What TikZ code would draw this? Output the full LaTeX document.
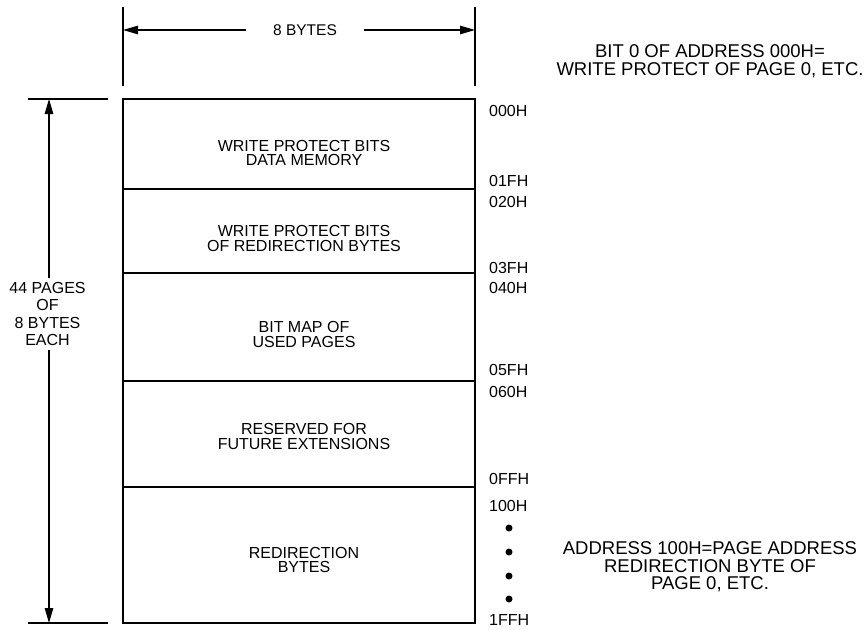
\documentclass[tikz,border=0pt]{standalone}
\usepackage{fontspec}
\setmainfont{Liberation Sans}
\usetikzlibrary{arrows.meta}
\begin{document}
\begin{tikzpicture}[x=1pt,y=-1pt,
  region/.style={draw,line width=1.1pt,minimum width=352pt,inner sep=0pt,outer sep=0pt},
  tick/.style={line width=1.1pt},
  dimarrow/.style={line width=1.1pt,-{Triangle[length=15pt,width=8.5pt]}},
  boxlbl/.style={font=\fontsize{16}{14.5}\selectfont,align=center,inner sep=0pt},
  addr/.style={font=\fontsize{16}{16}\selectfont,anchor=west,inner sep=0pt},
  note/.style={font=\fontsize{18.5}{17.5}\selectfont,align=center,inner sep=0pt},
  sidelbl/.style={font=\fontsize{16}{17.3}\selectfont,align=center,inner sep=0pt},
  dot/.style={circle,fill,inner sep=0pt,minimum size=7pt}]
\useasboundingbox (0,0) rectangle (867,629);
\fill[white] (0,0) rectangle (867,629);

% memory regions
\node[region,minimum height=90pt]  (r1) at (299,144) {};
\node[region,minimum height=84pt]  (r2) at (299,231) {};
\node[region,minimum height=108pt] (r3) at (299,327) {};
\node[region,minimum height=106pt] (r4) at (299,434) {};
\node[region,minimum height=136pt] (r5) at (299,555) {};

\node[boxlbl] (l1) at (304,153)   {WRITE PROTECT BITS\\DATA MEMORY};
\node[boxlbl] (l2) at (304,238.5) {WRITE PROTECT BITS\\OF REDIRECTION BYTES};
\node[boxlbl] (l3) at (304,334.5) {BIT MAP OF\\USED PAGES};
\node[boxlbl] (l4) at (304,436.5) {RESERVED FOR\\FUTURE EXTENSIONS};
\node[boxlbl] (l5) at (304,560)   {REDIRECTION\\BYTES};

% address labels
\node[addr] (a000) at (489,111) {000H};
\node[addr] (a01f) at (489,181) {01FH};
\node[addr] (a020) at (489,202) {020H};
\node[addr] (a03f) at (489,268) {03FH};
\node[addr] (a040) at (489,288) {040H};
\node[addr] (a05f) at (489,370) {05FH};
\node[addr] (a060) at (489,392) {060H};
\node[addr] (a0ff) at (489,479) {0FFH};
\node[addr] (a100) at (489,506) {100H};
\node[addr] (a1ff) at (489,620) {1FFH};

\node[dot] (d1) at (509,528) {};
\node[dot] (d2) at (509,552) {};
\node[dot] (d3) at (509,576) {};
\node[dot] (d4) at (509,599) {};

% notes
\node[note] (n1) at (710,61)  {BIT 0 OF ADDRESS 000H=\\WRITE PROTECT OF PAGE 0, ETC.};
\node[note] (n2) at (710,567) {ADDRESS 100H=PAGE ADDRESS\\REDIRECTION BYTE OF\\PAGE 0, ETC.};

% top dimension
\coordinate (tt1) at (123,7);  \coordinate (tb1) at (123,86);
\coordinate (tt2) at (475,7);  \coordinate (tb2) at (475,86);
\draw[tick] (tt1) -- (tb1);
\draw[tick] (tt2) -- (tb2);
\coordinate (tl) at (123,30);  \coordinate (tr) at (475,30);
\coordinate (gl) at (246,30);  \coordinate (gr) at (364,30);
\node[font=\fontsize{15.5}{15.5}\selectfont,inner sep=0pt] (w8) at (305,30) {8 BYTES};
\draw[dimarrow] (gl) -- (tl);
\draw[dimarrow] (gr) -- (tr);

% left dimension
\coordinate (lt1) at (28,99);   \coordinate (lt2) at (108,99);
\coordinate (lb1) at (28,623);  \coordinate (lb2) at (108,623);
\draw[tick] (lt1) -- (lt2);
\draw[tick] (lb1) -- (lb2);
\coordinate (vt) at (49,99);   \coordinate (vb) at (49,623);
\coordinate (vg1) at (49,278); \coordinate (vg2) at (49,350);
\node[sidelbl] (side) at (47.5,314) {44 PAGES\\OF\\8 BYTES\\EACH};
\draw[dimarrow] (vg1) -- (vt);
\draw[dimarrow] (vg2) -- (vb);
\end{tikzpicture}
\end{document}
